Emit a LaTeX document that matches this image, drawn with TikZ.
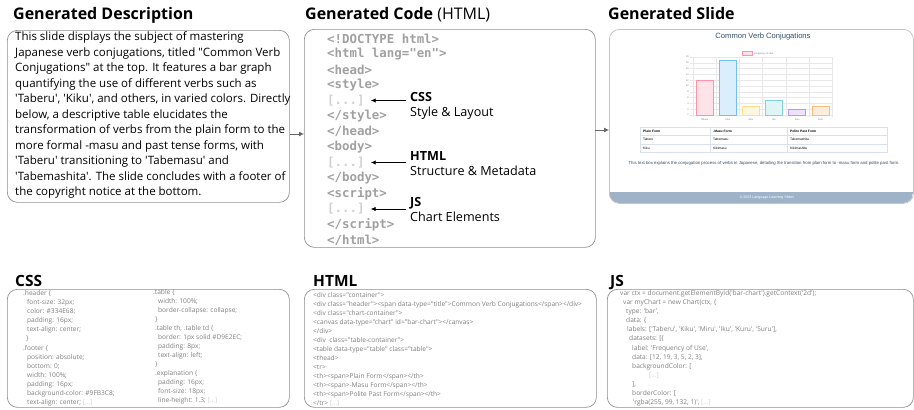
\documentclass[tikz,border=0pt]{standalone}
\usepackage{fontspec}
\setmainfont{Open Sans}[Ligatures=TeXOff]
\setmonofont{DejaVu Sans Mono}
\newfontfamily\slidefont{Liberation Sans}[Ligatures=TeXOff]
\usetikzlibrary{arrows.meta,positioning}
\definecolor{framegray}{HTML}{8E8E8E}
\definecolor{arrowgray}{HTML}{666666}
\definecolor{codegray}{HTML}{A0A0A0}
\definecolor{codelight}{HTML}{D0D0D0}
\definecolor{smallgray}{HTML}{7E7E7E}
\definecolor{slideedge}{HTML}{C4C4C4}
\definecolor{headerblue}{HTML}{334E68}
\definecolor{footerblue}{HTML}{9FB3C8}
\definecolor{cellline}{HTML}{D9E2EC}
\definecolor{gridgray}{HTML}{E8E8E8}
\definecolor{barpink}{RGB}{255,99,132}
\definecolor{barblue}{RGB}{54,162,235}
\definecolor{baryellow}{RGB}{255,206,86}
\definecolor{barteal}{RGB}{75,192,192}
\definecolor{barpurple}{RGB}{153,102,255}
\definecolor{barorange}{RGB}{255,159,64}
\newcommand\gapmark{\textcolor{codelight}{[...]}}
\tikzset{>=Latex,line width=.8pt,
  frame/.style={draw=framegray,line width=.7pt,rounded corners=10pt},
  heading/.style={font=\fontsize{16}{18}\selectfont\bfseries,anchor=base west,inner sep=0},
  codeline/.style={font=\fontsize{12.4}{14}\selectfont\ttfamily\bfseries,text=codegray,anchor=west,inner sep=0},
  partlabel/.style={font=\fontsize{12.6}{15}\selectfont,anchor=north west,inner sep=0,align=left},
  flow/.style={-{Latex[length=5pt,width=5pt]},draw=arrowgray,line width=.8pt},
  pointer/.style={-{Latex[length=5pt,width=4.5pt]},draw=black,line width=.8pt},
  snippet/.style={font=\fontsize{6.6}{9.05}\selectfont,text=smallgray,anchor=north west,inner sep=0,align=left},
  tiny/.style={font=\slidefont\fontsize{2.4}{3}\selectfont,text=smallgray,inner sep=0},
  cell/.style={font=\slidefont\fontsize{3.3}{4}\selectfont,anchor=west,inner sep=0}}
\begin{document}
\begin{tikzpicture}[x=1pt,y=-1pt]
\useasboundingbox (0,0) rectangle (914,410);

% top row: description, code, rendered slide
\node[heading] (desct) at (13,19.5) {Generated Description};
\node[heading] (codet) at (305,19.5) {Generated Code \mdseries(HTML)};
\node[heading] (slidet) at (608,19.5) {Generated Slide};

\node[frame,anchor=north west,minimum width=282pt,minimum height=172pt] (desc) at (7,30) {};
\node[anchor=north west,inner sep=0,align=left,font=\fontsize{11.5}{15.5}\selectfont] (desctext) at (15,31.5)
  {This slide displays the subject of mastering\\
   Japanese verb conjugations, titled "Common Verb\\
   Conjugations" at the top. It features a bar graph\\
   quantifying the use of different verbs such as\\
   'Taberu', 'Kiku', and others, in varied colors. Directly\\
   below, a descriptive table elucidates the\\
   transformation of verbs from the plain form to the\\
   more formal -masu and past tense forms, with\\
   'Taberu' transitioning to 'Tabemasu' and\\
   'Tabemashita'. The slide concludes with a footer of\\
   the copyright notice at the bottom.};

\node[frame,anchor=north west,minimum width=291pt,minimum height=218pt] (code) at (304,29) {};
\foreach \t [count=\i from 0] in {<!DOCTYPE html>,<html lang="en">,<head>,<style>,\gapmark,</style>,</head>,
  <body>,\gapmark,</body>,<script>,\gapmark,</script>,</html>}
  \node[codeline] (c\i) at (327,38.5+15.5*\i) {\t};

\node[partlabel] (csslab) at (410,92.5) {\textbf{CSS}\\Style \& Layout};
\node[partlabel] (htmllab) at (410,151.5) {\textbf{HTML}\\Structure \& Metadata};
\node[partlabel] (jslab) at (410,197.5) {\textbf{JS}\\Chart Elements};
\draw[pointer] (c4.east -| csslab.west) ++(-4pt,0) -- ([xshift=6pt]c4.east);
\draw[pointer] (c8.east -| htmllab.west) ++(-4pt,0) -- ([xshift=6pt]c8.east);
\draw[pointer] (c11.east -| jslab.west) ++(-4pt,0) -- ([xshift=6pt]c11.east);

% the slide itself
\coordinate (slidenw) at (609,29);
\coordinate (slidese) at (913,203);
\begin{scope}
  \clip[rounded corners=10pt] (slidenw) rectangle (slidese);
  \fill[white] (slidenw) rectangle (slidese);
  \fill[footerblue] (609,192) rectangle (913,203);
\end{scope}
\node[draw=slideedge,line width=.8pt,rounded corners=10pt,anchor=north west,minimum width=304pt,minimum height=174pt] (slide) at (slidenw) {};
\node[font=\slidefont\fontsize{7.6}{9}\selectfont,text=headerblue,inner sep=0] (stitle) at (763,37) {Common Verb Conjugations};

% bar chart
\foreach \k in {0,2,...,20}{
  \draw[gridgray,line width=.3pt] (690,115-2.9*\k) -- (832,115-2.9*\k);
  \node[tiny,anchor=east] (yt\k) at (689,115-2.9*\k) {\k};}
\foreach \j in {0,...,6}
  \draw[gridgray,line width=.3pt] (693+23.17*\j,57) -- (693+23.17*\j,117);
\foreach \v/\lab/\col [count=\i from 0] in {12/Taberu/barpink,19/Kiku/barblue,3/Miru/baryellow,
  5/Iku/barteal,2/Kuru/barpurple,3/Suru/barorange}{
  \draw[draw=\col!70,fill=\col!18,line width=.6pt] (693+23.17*\i+3,115) rectangle (693+23.17*\i+20,115-2.9*\v);
  \node[tiny] (xl\i) at (693+23.17*\i+11.6,120) {\lab};}
\draw[draw=barpink!70,fill=barpink!18,line width=.4pt] (742,51.5) rectangle (752,55.5);
\node[tiny,anchor=west] (legend) at (754,53.5) {Frequency of Use};

% conjugation table
\foreach \y in {127,135.5,144,152.5}
  \draw[cellline,line width=.4pt] (640,\y) -- (887,\y);
\foreach \x in {640,710,787,887}
  \draw[cellline,line width=.4pt] (\x,127) -- (\x,152.5);
\node[cell,font=\slidefont\bfseries\fontsize{3.3}{4}\selectfont] (h1) at (643,131.3) {Plain Form};
\node[cell,font=\slidefont\bfseries\fontsize{3.3}{4}\selectfont] (h2) at (713,131.3) {-Masu Form};
\node[cell,font=\slidefont\bfseries\fontsize{3.3}{4}\selectfont] (h3) at (790,131.3) {Polite Past Form};
\node[cell] (r1) at (643,139.8) {Taberu};
\node[cell] (r2) at (713,139.8) {Tabemasu};
\node[cell] (r3) at (790,139.8) {Tabemashita};
\node[cell] (s1) at (643,148.3) {Kiku};
\node[cell] (s2) at (713,148.3) {Kikimasu};
\node[cell] (s3) at (790,148.3) {Kikimashita};
\node[font=\slidefont\fontsize{4.3}{5}\selectfont,text=headerblue,inner sep=0] (expl) at (764,163)
  {This text box explains the conjugation process of verbs in Japanese, detailing the transition from plain form to -masu form and polite past form.};
\node[font=\slidefont\fontsize{3.6}{4.5}\selectfont,text=white,inner sep=0] (foot) at (767,197.5) {\textcopyright{} 2023 Language Learning Slides};

% flow between the three stages
\coordinate (f1) at (290,134);
\draw[flow] (f1) -- (f1 -| code.west);
\coordinate (f2) at (595,130);
\draw[flow] (f2) -- (f2 -| slide.west);

% bottom row: code excerpts
\node[heading,font=\fontsize{15.5}{18}\selectfont\bfseries] (csst) at (15,286) {CSS};
\node[heading,font=\fontsize{15.5}{18}\selectfont\bfseries] (htmlt) at (313,286) {HTML};
\node[heading,font=\fontsize{15.5}{18}\selectfont\bfseries] (jst) at (610,286) {JS};
\node[frame,anchor=north west,minimum width=282pt,minimum height=118pt] (cssbox) at (7,289) {};
\node[frame,anchor=north west,minimum width=292pt,minimum height=118pt] (htmlbox) at (304,289) {};
\node[frame,anchor=north west,minimum width=306pt,minimum height=118pt] (jsbox) at (607,289) {};

\node[snippet] (cssleft) at (23,290.5) {.header \{\\
  \hspace{4pt}font-size: 32px;\\
  \hspace{4pt}color: \#334E68;\\
  \hspace{4pt}padding: 16px;\\
  \hspace{4pt}text-align: center;\\
  \hspace{3pt}\}\\
  .footer \{\\
  \hspace{4pt}position: absolute;\\
  \hspace{4pt}bottom: 0;\\
  \hspace{4pt}width: 100\%;\\
  \hspace{4pt}padding: 16px;\\
  \hspace{4pt}background-color: \#9FB3C8;\\
  \hspace{4pt}text-align: center; \gapmark};
\node[snippet] (cssright) at (153,289) {.table \{\\
  \hspace{5pt}width: 100\%;\\
  \hspace{5pt}border-collapse: collapse;\\
  \hspace{2pt}\}\\
  \hspace{2pt}.table th, .table td \{\\
  \hspace{5pt}border: 1px solid \#D9E2EC;\\
  \hspace{5pt}padding: 8px;\\
  \hspace{5pt}text-align: left;\\
  \hspace{2pt}\}\\
  \hspace{2pt}.explanation \{\\
  \hspace{5pt}padding: 16px;\\
  \hspace{5pt}font-size: 18px;\\
  \hspace{5pt}line-height: 1.3; \gapmark};
\node[snippet] (htmltext) at (313,292) {<div class="container">\\
  <div class="header"><span data-type="title">Common Verb Conjugations</span></div>\\
  <div class="chart-container">\\
  <canvas data-type="chart" id="bar-chart"></canvas>\\
  </div>\\
  <div\ \ class="table-container">\\
  <table data-type="table" class="table">\\
  <thead>\\
  <tr>\\
  <th><span>Plain Form</span></th>\\
  <th><span>-Masu Form</span></th>\\
  <th><span>Polite Past Form</span></th>\\
  </tr> \gapmark};
\node[snippet] (jstext) at (620,290.5) {var ctx = document.getElementById('bar-chart').getContext('2d');\\
  \hspace{3pt}var myChart = new Chart(ctx, \{\\
  \hspace{6pt}type: 'bar',\\
  \hspace{6pt}data: \{\\
  \hspace{7pt}labels: ['Taberu', 'Kiku', 'Miru', 'Iku', 'Kuru', 'Suru'],\\
  \hspace{9pt}datasets: [\{\\
  \hspace{12pt}label: 'Frequency of Use',\\
  \hspace{12pt}data: [12, 19, 3, 5, 2, 3],\\
  \hspace{12pt}backgroundColor: [\\
  \hspace{29pt}\gapmark\\
  \hspace{12pt}],\\
  \hspace{12pt}borderColor: [\\
  \hspace{13pt}'rgba(255, 99, 132, 1)', \gapmark};
\end{tikzpicture}
\end{document}
